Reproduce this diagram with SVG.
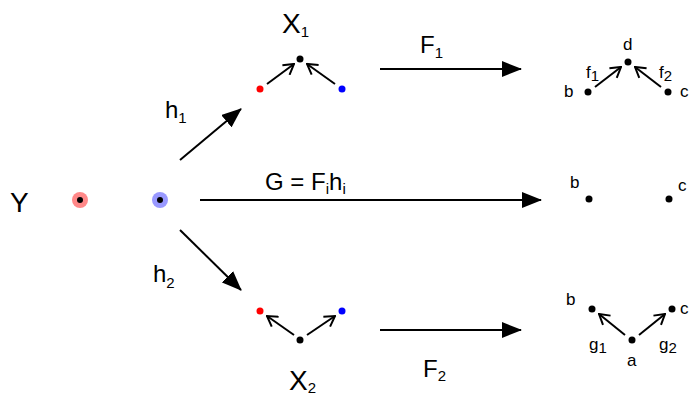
<svg xmlns="http://www.w3.org/2000/svg" width="690" height="400" viewBox="0 0 690 400">
<style>
.t{font-family:"Liberation Sans",Arial,sans-serif;fill:#000}
.big{font-size:28px}
.mid{font-size:24px}
.sm{font-size:17px}
.sub{font-size:15px}
.ln{stroke:#000;stroke-width:2;fill:none}
.dot{fill:#000}
</style>
<defs>
<marker id="tri" markerWidth="20" markerHeight="16" refX="19" refY="8" orient="auto" markerUnits="userSpaceOnUse">
<path d="M0,0 L20,8 L0,16 Z" fill="#000"/>
</marker>
<marker id="chev" markerWidth="12" markerHeight="14" refX="11" refY="7" orient="auto" markerUnits="userSpaceOnUse">
<path d="M1,1 L11,7 L1,13" fill="none" stroke="#000" stroke-width="2"/>
</marker>
</defs>
<rect width="690" height="400" fill="#fff"/>

<g id="connectors">
<line class="ln" x1="180" y1="160" x2="241" y2="109" marker-end="url(#tri)"/>
<line class="ln" x1="200" y1="200" x2="541" y2="200" marker-end="url(#tri)"/>
<line class="ln" x1="180" y1="230" x2="241" y2="290" marker-end="url(#tri)"/>
<line class="ln" x1="380" y1="69" x2="521" y2="69" marker-end="url(#tri)"/>
<line class="ln" x1="380" y1="330" x2="521" y2="330" marker-end="url(#tri)"/>
<line class="ln" x1="267" y1="84" x2="294" y2="64" marker-end="url(#chev)"/>
<line class="ln" x1="335" y1="84" x2="307" y2="64" marker-end="url(#chev)"/>
<line class="ln" x1="294" y1="335" x2="267" y2="316" marker-end="url(#chev)"/>
<line class="ln" x1="307" y1="335" x2="335" y2="316" marker-end="url(#chev)"/>
<line class="ln" x1="595" y1="87" x2="621" y2="67" marker-end="url(#chev)"/>
<line class="ln" x1="661" y1="87" x2="635" y2="67" marker-end="url(#chev)"/>
<line class="ln" x1="625" y1="335" x2="599" y2="314" marker-end="url(#chev)"/>
<line class="ln" x1="639" y1="335" x2="665" y2="314" marker-end="url(#chev)"/>
</g>

<g id="labels">
<text class="t big" x="10" y="212">Y</text>
<text class="t mid" x="165" y="118">h<tspan class="sub" dy="5">1</tspan></text>
<text class="t mid" x="153" y="282">h<tspan class="sub" dy="6">2</tspan></text>
<text class="t mid" x="265" y="190">G = F<tspan class="sub" dy="4">i</tspan><tspan dy="-4">h</tspan><tspan class="sub" dy="4">i</tspan></text>
<text class="t mid" x="420" y="53">F<tspan class="sub" dy="5">1</tspan></text>
<text class="t mid" x="423" y="377">F<tspan class="sub" dy="4">2</tspan></text>
</g>

<g id="Y_red">
<circle cx="80" cy="200" r="8" fill="#f88"/>
<circle class="dot" cx="80" cy="200" r="3"/>
</g>
<g id="Y_blue">
<circle cx="160" cy="200" r="8" fill="#99f"/>
<circle class="dot" cx="160" cy="200" r="3"/>
</g>

<g id="X1">
<text class="t big" x="282" y="33">X<tspan class="sub" dy="4">1</tspan></text>
<circle class="dot" cx="300" cy="59" r="3.5"/>
<circle cx="260" cy="89" r="3.5" fill="#f00"/>
<circle cx="342" cy="89" r="3.5" fill="#00f"/>
</g>

<g id="X2">
<text class="t big" x="289" y="390">X<tspan class="sub" dy="3">2</tspan></text>
<circle class="dot" cx="300" cy="340" r="3.5"/>
<circle cx="260" cy="311" r="3.5" fill="#f00"/>
<circle cx="342" cy="311" r="3.5" fill="#00f"/>
</g>

<g id="top_right">
<text class="t sm" x="623" y="50">d</text>
<circle class="dot" cx="628" cy="62" r="3.5"/>
<text class="t sm" x="564" y="97">b</text>
<circle class="dot" cx="588" cy="92" r="3.5"/>
<text class="t sm" x="680" y="97">c</text>
<circle class="dot" cx="668" cy="92" r="3.5"/>
<text class="t sm" x="586" y="78">f<tspan class="sub" dy="3">1</tspan></text>
<text class="t sm" x="659" y="78">f<tspan class="sub" dy="3">2</tspan></text>
</g>

<g id="mid_right">
<text class="t sm" x="570" y="188">b</text>
<circle class="dot" cx="589" cy="199" r="3.5"/>
<circle class="dot" cx="669" cy="199" r="3.5"/>
<text class="t sm" x="678" y="191">c</text>
</g>

<g id="bottom_right">
<text class="t sm" x="566" y="305">b</text>
<circle class="dot" cx="592" cy="309" r="3.5"/>
<circle class="dot" cx="672" cy="309" r="3.5"/>
<text class="t sm" x="680" y="314">c</text>
<circle class="dot" cx="632" cy="340" r="3.5"/>
<text class="t sm" x="627" y="366">a</text>
<text class="t sm" x="589" y="350">g<tspan class="sub" dy="3">1</tspan></text>
<text class="t sm" x="659" y="350">g<tspan class="sub" dy="3">2</tspan></text>
</g>
</svg>
